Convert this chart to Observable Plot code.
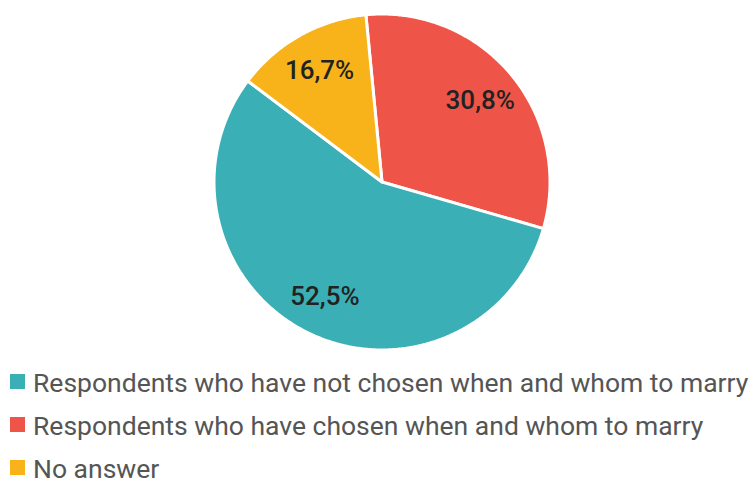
<!DOCTYPE html>
<html><head><meta charset="utf-8">
<script src="https://cdn.jsdelivr.net/npm/d3@7"></script>
<script src="https://cdn.jsdelivr.net/npm/@observablehq/plot@0.6"></script>
<style>
body{margin:0;background:#fff;font-family:Roboto,sans-serif;}
#chart svg{display:block;}
#legend{margin-top:-1px;}
.row{display:flex;align-items:flex-start;height:43px;line-height:43px;font-size:26.5px;color:#555;white-space:nowrap;}
.sw{width:15px;height:15px;margin-left:10px;margin-right:8px;margin-top:13px;flex:none;}
</style></head><body><div id="chart"></div><div id="legend"></div>
<script>
// Slice order clockwise from the top
const categories = ["Respondents who have chosen when and whom to marry", "Respondents who have not chosen when and whom to marry", "No answer"];
const shares = [31.0, 55.8, 13.2];          // slice sizes as drawn
const labels = ["30,8%", "52,5%", "16,7%"];  // printed percentages
const colors = ["#EE5548", "#3AAFB5", "#F8B31A"];
const legendOrder = [1, 0, 2];
const startAngleDeg = -5.5;

const W = 754, H = 362, cx = 381.5, cy = 181.5, R = 168;
const total = d3.sum(shares);
let a0 = startAngleDeg * Math.PI / 180;
const pts = [], labs = [];
shares.forEach((v, i) => {
  const a1 = a0 + v / total * 2 * Math.PI;
  pts.push({k: categories[i], x: 0, y: 0});
  const n = Math.ceil((a1 - a0) * 180 / Math.PI * 2);
  for (let j = 0; j <= n; j++) {
    const a = a0 + (a1 - a0) * j / n;
    pts.push({k: categories[i], x: Math.sin(a), y: Math.cos(a)});
  }
  pts.push({k: categories[i], x: 0, y: 0});
  const m = (a0 + a1) / 2;
  labs.push({x: 0.76 * Math.sin(m), y: 0.76 * Math.cos(m), t: labels[i]});
  a0 = a1;
});

const chart = Plot.plot({
  width: W, height: H, margin: 0,
  x: {domain: [-cx / R, (W - cx) / R], range: [0, W], axis: null},
  y: {domain: [-(H - cy) / R, cy / R], range: [H, 0], axis: null},
  color: {domain: categories, range: colors},
  style: {fontFamily: "Roboto, sans-serif", background: "white"},
  marks: [
    Plot.line(pts, {x: "x", y: "y", z: "k", fill: "k", stroke: "white", strokeWidth: 3, strokeLinejoin: "round"}),
    Plot.text(labs, {x: "x", y: "y", text: "t", fontSize: 26, fontWeight: 500, fill: "#222"})
  ]
});
document.getElementById("chart").appendChild(chart);

const leg = document.getElementById("legend");
legendOrder.forEach(i => {
  const r = document.createElement("div"); r.className = "row";
  const s = document.createElement("div"); s.className = "sw"; s.style.background = colors[i];
  const t = document.createElement("span"); t.textContent = categories[i];
  r.appendChild(s); r.appendChild(t); leg.appendChild(r);
});
</script></body></html>
